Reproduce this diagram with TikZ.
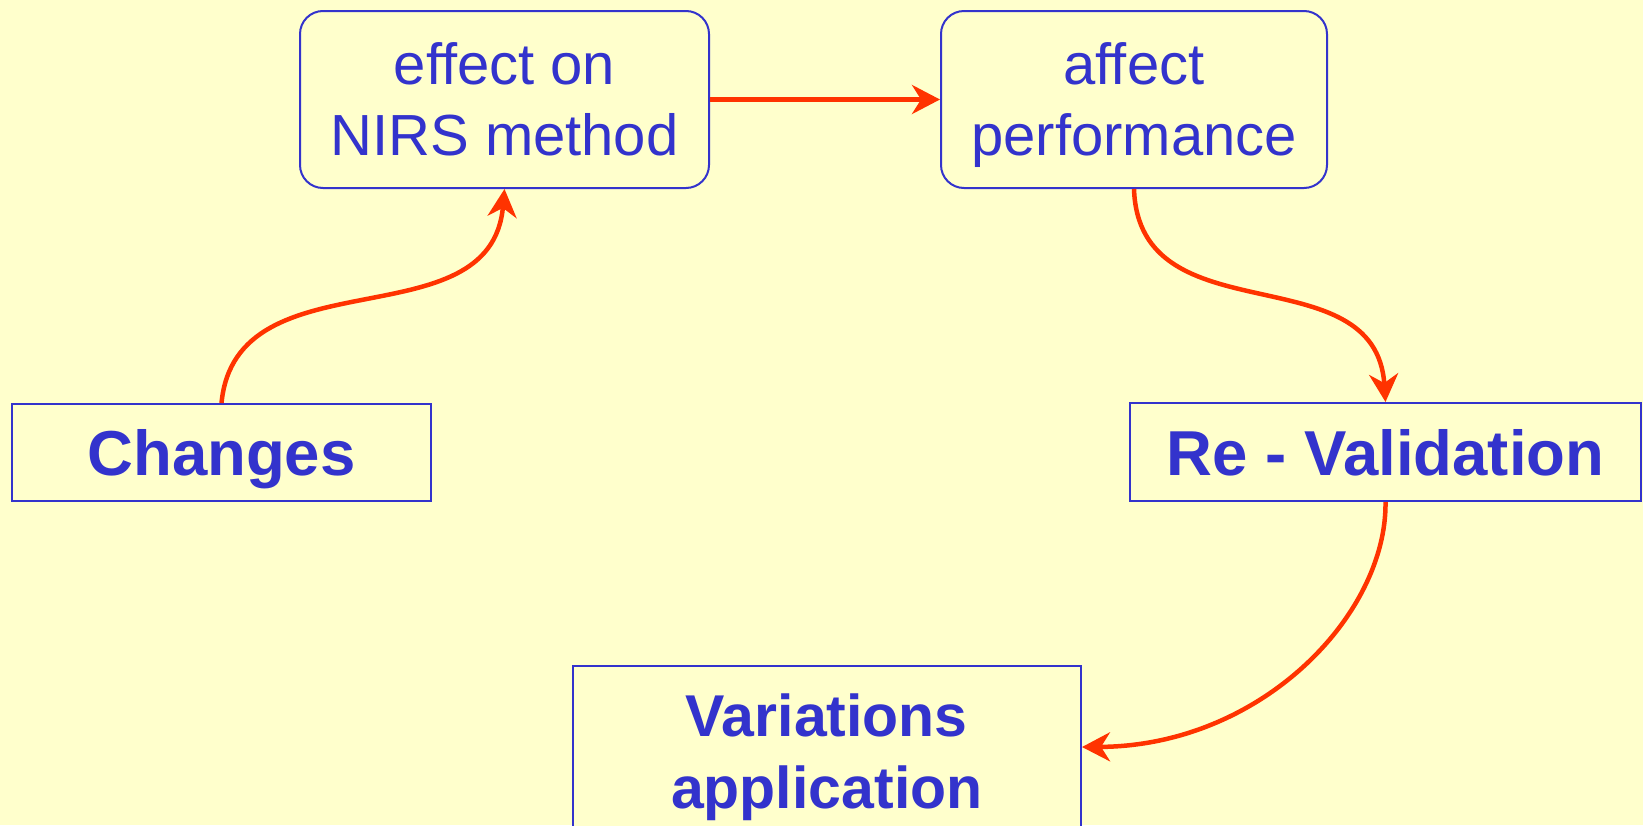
\documentclass[tikz,border=0pt]{standalone}
\usepackage{fontspec}
\setmainfont{Liberation Sans}
\usetikzlibrary{arrows.meta}
\definecolor{bg}{HTML}{FFFFCC}
\definecolor{ink}{HTML}{3333CC}
\definecolor{arr}{HTML}{FF3300}
\begin{document}
\begin{tikzpicture}[x=1pt,y=-1pt,
  boxbase/.style={draw=ink, line width=2pt, fill=bg, align=center, text=ink,
    text depth=0pt, inner sep=0pt},
  rbox/.style={boxbase, rounded corners=23pt, font=\fontsize{58}{71}\selectfont},
  sbox/.style={boxbase, font=\bfseries\fontsize{63.5}{70}\selectfont},
  conn/.style={draw=arr, line width=4.5pt, line join=round,
    -{Stealth[length=28pt,width=29pt,inset=9pt]}}]
\useasboundingbox (0,0) rectangle (1643,825);
\clip (0,0) rectangle (1643,825);
\fill[bg] (0,0) rectangle (1643,825);

\node[rbox, minimum width=409pt, minimum height=177pt] (eff) at (504.5,99.5) {effect on\\NIRS method};
\node[rbox, minimum width=386pt, minimum height=177pt] (perf) at (1134,99.5) {affect\\performance};
\node[sbox, minimum width=419pt, minimum height=97pt] (chg) at (221.5,452.5) {Changes};
\node[sbox, minimum width=511pt, minimum height=98pt] (reval) at (1385.5,452) {Re - Validation};
\node[sbox, font=\bfseries\fontsize{59}{72}\selectfont, minimum width=508.5pt, minimum height=170pt] (var) at (826.75,751) {Variations\\application};

\draw[conn] (eff) -- (perf);
\draw[conn] (chg.north) .. controls +(14.5,-151) and +(-13.5,155) .. (eff.south);
\draw[conn] (perf.south) .. controls +(5,150) and +(-10,-150) .. (reval.north);
\draw[conn] (reval.south) .. controls +(1.5,112) and +(180,-1) .. ([yshift=4pt]var.east);
\end{tikzpicture}
\end{document}
